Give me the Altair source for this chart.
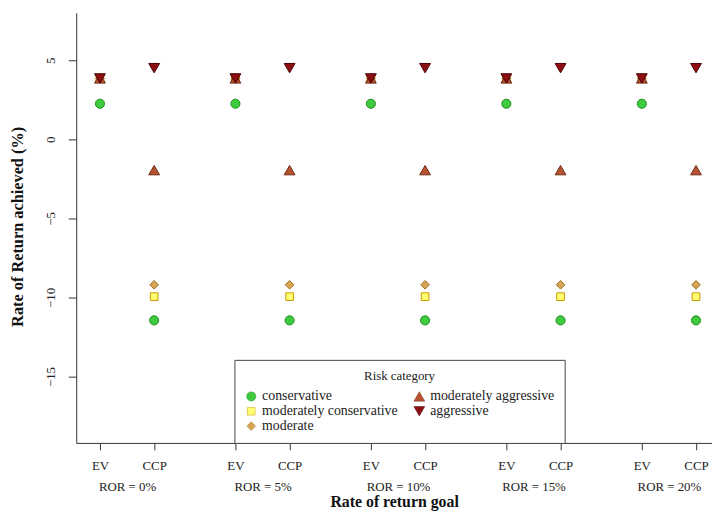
import altair as alt
import pandas as pd

goals = ["0%", "5%", "10%", "15%", "20%"]
methods = ["EV", "CCP"]
categories = ["conservative", "moderately conservative", "moderate",
              "moderately aggressive", "aggressive"]
ev_values = [2.25, 3.85, 3.85, 3.85, 3.85]
ccp_values = [-11.45, -9.95, -9.2, -1.95, 4.5]
y_ticks = [5, 0, -5, -10, -15]

fills = ["#3ecb3e", "#ffff70", "#d8a552", "#b5532f", "#8e0f12"]
strokes = ["#1f8a1f", "#c99a00", "#9c6a26", "#6e2a14", "#4a0005"]
shapes = ["circle", "square", "diamond", "triangle-up", "triangle-down"]
sizes = [85, 60, 75, 120, 120]

rows = []
for gi, g in enumerate(goals):
    for m, vals in zip(methods, [ev_values, ccp_values]):
        for ci, c in enumerate(categories):
            rows.append({"goal": g, "method": m, "category": c,
                         "value": vals[ci], "order": ci,
                         "xpos": gi * 5 + (0 if m == "EV" else 2)})
df = pd.DataFrame(rows)

ev_ccp_ticks = [gi * 5 + off for gi in range(len(goals)) for off in (0, 2)]
ror_ticks = [gi * 5 + 1 for gi in range(len(goals))]
ror_labels = "[" + ",".join("'ROR = " + g + "'" for g in goals) + "]"

font = "Liberation Serif"
xscale = alt.Scale(domain=[-0.876, 22.59], nice=False, zero=False)
yscale = alt.Scale(domain=[-19.2, 8.0], nice=False, zero=False)

points = alt.Chart(df).mark_point(filled=True, opacity=1, strokeWidth=1).encode(
    x=alt.X("xpos:Q", scale=xscale,
            axis=alt.Axis(values=ev_ccp_ticks, orient="bottom",
                          labelExpr="datum.value % 5 == 0 ? 'EV' : 'CCP'",
                          grid=False, tickSize=7, labelPadding=10,
                          labelFontSize=13, labelFont=font, labelColor="#222",
                          domainColor="#333", tickColor="#333",
                          labelBaseline="top", title=None)),
    y=alt.Y("value:Q", scale=yscale,
            axis=alt.Axis(values=y_ticks, grid=False, tickSize=8, labelAngle=-90,
                          labelAlign="center", labelBaseline="bottom", labelPadding=11,
                          labelFontSize=13, labelFont=font, labelColor="#222",
                          domainColor="#333", tickColor="#333",
                          title="Rate of Return achieved (%)", titleFont=font,
                          titleFontSize=16.5, titleFontWeight="bold", titleColor="#111",
                          titleAngle=-90, titleX=-59, titleY=216,
                          titleAlign="center", titleBaseline="middle")),
    color=alt.Color("category:N", scale=alt.Scale(domain=categories, range=fills),
                    legend=alt.Legend(title="Risk category", orient="none",
                                      legendX=160, legendY=351, columns=2,
                                      direction="vertical",
                                      strokeColor="#444", padding=10,
                                      fillColor="white",
                                      titleFont=font, titleFontSize=13,
                                      titleFontWeight="normal", titleColor="#222",
                                      titleAnchor="middle", titleAlign="center",
                                      titlePadding=7,
                                      labelFont=font, labelFontSize=14,
                                      labelColor="#222", symbolSize=40,
                                      rowPadding=1, columnPadding=14,
                                      symbolStrokeWidth=0.5)),
    shape=alt.Shape("category:N", scale=alt.Scale(domain=categories, range=shapes)),
    stroke=alt.Stroke("category:N", scale=alt.Scale(domain=categories, range=strokes),
                      legend=None),
    size=alt.Size("category:N",
                  scale=alt.Scale(type="ordinal", domain=categories, range=sizes),
                  legend=None),
    order=alt.Order("order:Q"),
)

ror_axis = alt.Chart(df).mark_point(opacity=0).encode(
    x=alt.X("xpos:Q", scale=xscale,
            axis=alt.Axis(values=ror_ticks, orient="bottom", ticks=False,
                          domain=False, grid=False, labelPadding=38,
                          labelExpr=ror_labels + "[floor(datum.value / 5)]",
                          labelFontSize=13, labelFont=font, labelColor="#222",
                          labelBaseline="top",
                          title="Rate of return goal", titleFont=font,
                          titleFontSize=16, titleFontWeight="bold",
                          titleColor="#111", titleY=64,
                          titleBaseline="alphabetic")),
)

chart = alt.layer(points, ror_axis).resolve_axis(x="independent").properties(
    width=643, height=435,
    autosize=alt.AutoSizeParams(type="none"),
    padding={"left": 69, "top": 2, "right": 0, "bottom": 66},
    background="white",
).configure_view(stroke=None)

chart.save("out.html", embed_options={"renderer": "svg", "actions": False})
